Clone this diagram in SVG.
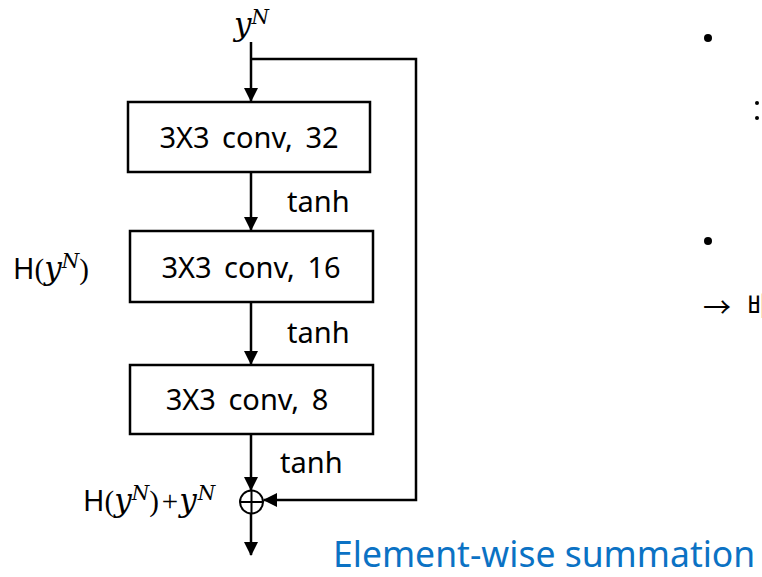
<svg xmlns="http://www.w3.org/2000/svg" width="762" height="577" viewBox="0 0 762 577">
<style>
.box{fill:#fff;stroke:#000;stroke-width:2.5}
.ln{fill:none;stroke:#000;stroke-width:2.5}
.t{font-family:"Noto Sans","Open Sans",sans-serif;font-size:29px;fill:#000}
.c{word-spacing:5px}
.m{font-family:"DejaVu Serif","Liberation Serif",serif;font-style:italic}
.y{font-size:31px}
.n{font-size:20px}
.p{font-family:"Liberation Serif","DejaVu Serif",serif;font-size:29px}
.blue{font-family:"Noto Sans","Open Sans",sans-serif;font-size:35.5px;fill:#0B72C4}
</style>
<defs>
<marker id="ah" markerWidth="14" markerHeight="14" refX="13" refY="7" orient="auto" markerUnits="userSpaceOnUse">
<path d="M0,0 L14,7 L0,14 Z" fill="#000"/>
</marker>
</defs>
<g id="connectors">
<line class="ln" x1="251" y1="42" x2="251" y2="101" marker-end="url(#ah)"/>
<polyline class="ln" points="251,59 416,59 416,500 264,500" marker-end="url(#ah)"/>
<line class="ln" x1="251" y1="172" x2="251" y2="230" marker-end="url(#ah)"/>
<line class="ln" x1="251" y1="302" x2="251" y2="364" marker-end="url(#ah)"/>
<line class="ln" x1="251" y1="434" x2="251" y2="490" marker-end="url(#ah)"/>
<line class="ln" x1="251" y1="513" x2="251" y2="555" marker-end="url(#ah)"/>
</g>
<g id="input"><text class="t" x="234" y="35"><tspan class="m y">y</tspan><tspan class="m n" dy="-11">N</tspan></text></g>
<g id="conv32"><rect class="box" x="128" y="102" width="242" height="70"/><text class="t c" x="249" y="148" text-anchor="middle">3X3 conv, 32</text></g>
<g id="tanh1"><text class="t" x="287" y="212">tanh</text></g>
<g id="conv16"><rect class="box" x="130" y="231" width="243" height="71"/><text class="t c" x="251" y="278" text-anchor="middle">3X3 conv, 16</text></g>
<g id="tanh2"><text class="t" x="287" y="343">tanh</text></g>
<g id="conv8"><rect class="box" x="130" y="365" width="243" height="69"/><text class="t c" x="247" y="410" text-anchor="middle">3X3 conv, 8</text></g>
<g id="tanh3"><text class="t" x="280" y="473">tanh</text></g>
<g id="hlabel"><text class="t" x="13" y="279">H<tspan class="p">(</tspan><tspan class="m y">y</tspan><tspan class="m n" dy="-11">N</tspan><tspan class="p" dy="11">)</tspan></text></g>
<g id="sum"><circle cx="251.5" cy="502" r="11.5" fill="#fff" stroke="#000" stroke-width="2"/><line x1="240" y1="502" x2="263" y2="502" stroke="#000" stroke-width="2"/><line x1="251.5" y1="490.5" x2="251.5" y2="513.5" stroke="#000" stroke-width="2"/></g>
<g id="sumlabel"><text class="t" x="83" y="511">H<tspan class="p">(</tspan><tspan class="m y">y</tspan><tspan class="m n" dy="-11">N</tspan><tspan class="p" dy="11">)</tspan><tspan class="p" dx="3">+</tspan><tspan class="m y" dx="1">y</tspan><tspan class="m n" dx="1" dy="-11">N</tspan></text></g>
<g id="caption"><text class="blue" x="333" y="567">Element-wise summation</text></g>
<g id="side">
<circle cx="708" cy="38" r="4" fill="#000"/>
<circle cx="708" cy="241" r="4" fill="#000"/>
<circle cx="757" cy="103" r="2" fill="#000"/>
<circle cx="757" cy="118" r="2" fill="#000"/>
<text x="703" y="318" font-family="'Noto Sans CJK KR','Noto Sans',sans-serif" font-size="28" fill="#000">→</text>
<text x="747" y="317" font-family="'Noto Sans CJK KR','Noto Sans',sans-serif" font-size="28" fill="#000">배</text>
</g>
</svg>
